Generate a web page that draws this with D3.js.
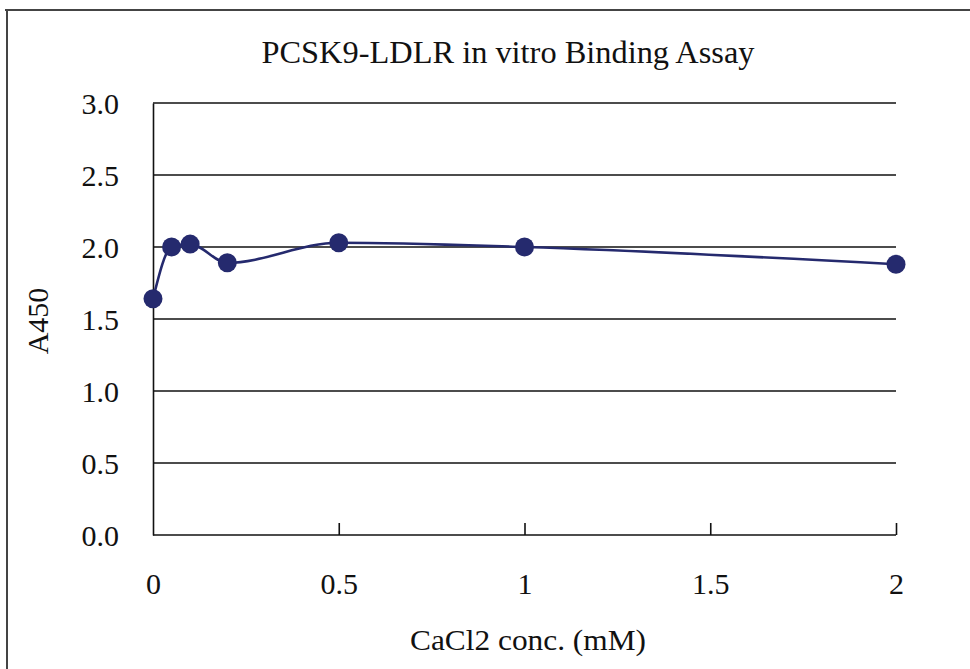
<!DOCTYPE html>
<html>
<head>
<meta charset="utf-8">
<script src="https://cdn.jsdelivr.net/npm/d3@7"></script>
<style>
  html, body { margin: 0; padding: 0; background: #fff; }
  svg { display: block; }
  text { font-family: "Liberation Serif", "Times New Roman", serif; fill: #111; }
</style>
</head>
<body>
<svg id="chart" width="970" height="669"></svg>
<script>
// ---- Data ----
const concentrations = [0, 0.05, 0.1, 0.2, 0.5, 1, 2];
const a450Values = [1.64, 2.0, 2.02, 1.89, 2.03, 2.0, 1.88];
const yTickValues = [0, 0.5, 1.0, 1.5, 2.0, 2.5, 3.0];
const xTickValues = [0, 0.5, 1, 1.5, 2];
const titleText = "PCSK9-LDLR in vitro Binding Assay";
const xTitle = "CaCl2 conc. (mM)";
const yTitle = "A450";

// ---- Layout ----
const W = 970, H = 669;
const plot = { left: 153, right: 896, top: 103, bottom: 535 };
const svg = d3.select("#chart");
const navy = "#252a6e";

const x = d3.scaleLinear().domain([0, 2]).range([plot.left, plot.right]);
const y = d3.scaleLinear().domain([0, 3]).range([plot.bottom, plot.top]);

// Outer frame (partial, as in reference)
svg.append("line").attr("x1", 5).attr("x2", W).attr("y1", 10).attr("y2", 10)
  .attr("stroke", "#444").attr("stroke-width", 2);
svg.append("line").attr("x1", 7).attr("x2", 7).attr("y1", 10).attr("y2", H)
  .attr("stroke", "#444").attr("stroke-width", 2);

// Title
svg.append("text")
  .attr("x", 508).attr("y", 63)
  .attr("text-anchor", "middle")
  .attr("font-size", 32)
  .attr("textLength", 493).attr("lengthAdjust", "spacingAndGlyphs")
  .text(titleText);

// Gridlines
svg.append("g").selectAll("line").data(yTickValues.filter(d => d > 0)).join("line")
  .attr("x1", plot.left).attr("x2", plot.right)
  .attr("y1", d => y(d)).attr("y2", d => y(d))
  .attr("stroke", "#111").attr("stroke-width", 1.6);

// Y axis
const yAxis = d3.axisLeft(y).tickValues(yTickValues).tickFormat(d3.format(".1f")).tickSize(0).tickPadding(34);
const gy = svg.append("g").attr("transform", `translate(${plot.left},0)`).call(yAxis);
gy.select(".domain").attr("stroke", "#111").attr("stroke-width", 1.6);
gy.selectAll("text").attr("font-size", 30).attr("fill", "#111")
  .style("font-family", "'Liberation Serif', serif").attr("dy", "0.35em");

// X axis
const xAxis = d3.axisBottom(x).tickValues(xTickValues).tickFormat(d => String(d)).tickSize(-12).tickPadding(0);
const gx = svg.append("g").attr("transform", `translate(0,${plot.bottom})`).call(xAxis);
gx.select(".domain").attr("stroke", "#111").attr("stroke-width", 1.6).attr("d", `M${plot.left},0H${plot.right}`);
gx.selectAll(".tick line").attr("stroke", "#111").attr("stroke-width", 1.6);
gx.selectAll(".tick").filter(d => d === 0).select("line").remove();
gx.selectAll("text").attr("font-size", 30).attr("fill", "#111")
  .style("font-family", "'Liberation Serif', serif").attr("y", 48).attr("dy", "0.35em");

// Axis titles
svg.append("text")
  .attr("x", 528).attr("y", 650)
  .attr("text-anchor", "middle")
  .attr("font-size", 30)
  .attr("textLength", 236).attr("lengthAdjust", "spacingAndGlyphs")
  .text(xTitle);
svg.append("text")
  .attr("transform", "translate(48,321) rotate(-90)")
  .attr("text-anchor", "middle")
  .attr("font-size", 30)
  .text(yTitle);

// Series
const pts = concentrations.map((c, i) => [c, a450Values[i]]);
const line = d3.line().x(d => x(d[0])).y(d => y(d[1])).curve(d3.curveMonotoneX);
svg.append("path").datum(pts).attr("d", line)
  .attr("fill", "none").attr("stroke", navy).attr("stroke-width", 2.6);
svg.append("g").selectAll("circle").data(pts).join("circle")
  .attr("cx", d => x(d[0])).attr("cy", d => y(d[1])).attr("r", 9.5)
  .attr("fill", navy);
</script>
</body>
</html>
